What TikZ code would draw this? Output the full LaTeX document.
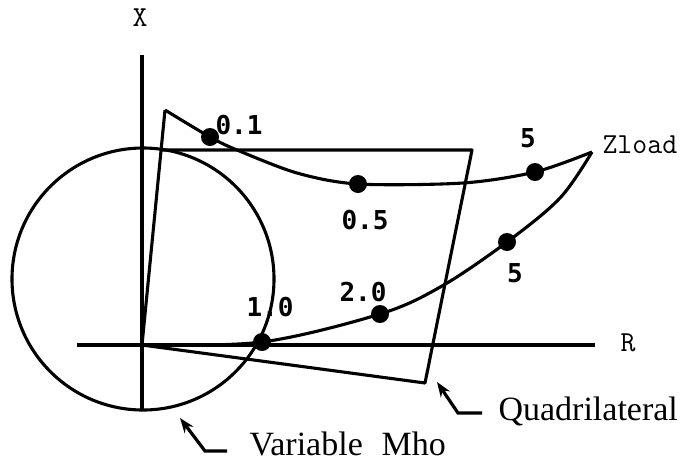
\documentclass[tikz,border=0pt]{standalone}
\usepackage{fontspec}
\setmainfont{Liberation Serif}
\newfontfamily\dvmono{DejaVu Sans Mono}
\usetikzlibrary{arrows.meta}
\begin{document}
\begin{tikzpicture}[x=1pt,y=-1pt,
  line width=3.1pt, line join=round,
  dot/.style={circle,fill=black,inner sep=0pt,minimum size=18pt},
  num/.style={font=\dvmono\bfseries\fontsize{26}{26}\selectfont, inner sep=0pt},
  axlab/.style={font=\ttfamily\fontsize{29}{29}\selectfont, inner sep=0pt},
  caption/.style={font=\fontsize{34}{34}\selectfont, inner sep=0pt, anchor=base west},
  pointer/.style={line width=3.2pt, line join=miter, -{Stealth[length=15pt,width=11pt]}}
]
\useasboundingbox (0,0) rectangle (682,464);

% key points
\coordinate (O) at (142,345);
\coordinate (A) at (165,110);
\coordinate (T) at (161,150);
\coordinate (C) at (472,150);
\coordinate (D) at (425,383);
\coordinate (Z) at (592,152);
\coordinate (xtop) at (142,55);
\coordinate (xbot) at (142,410);
\coordinate (rleft) at (77,345);
\coordinate (rright) at (595,345);

% axes
\draw[line width=3.6pt] (xtop) -- (xbot);
\draw[line width=3.6pt] (rleft) -- (rright);
\node[axlab] (xl) at (140,18) {X};
\node[axlab] (rl) at (628,343) {R};

% mho circle
\draw (143,279) circle[radius=131pt];

% quadrilateral
\draw (O) -- (A);
\draw (T) -- (C) -- (D) -- (O);

% load curves
\node[dot] (d01) at (210,137) {};
\node[dot] (d05) at (358,184) {};
\node[dot] (d5a) at (535,172) {};
\node[dot] (d5b) at (507,242) {};
\node[dot] (d20) at (380,314) {};
\node[dot] (d10) at (262,342) {};

\draw plot[smooth, tension=0.5] coordinates {(A) (d01.center) (237,150) (297,173) (d05.center) (463,183) (d5a.center) (Z)};
\draw plot[smooth, tension=0.55] coordinates {(Z) (560,198) (d5b.center) (442,286) (d20.center) (d10.center) (O)};

% numbers
\node[num] (l01) at (239,125) {0.1};
\node[num] (l05) at (365,220) {0.5};
\node[num] (l5a) at (528,138) {5};
\node[num] (l5b) at (515,273) {5};
\node[num] (l20) at (363,292) {2.0};
\node[num] (l10) at (270,307) {1.0};
\node[axlab, anchor=west] (zl) at (601,145) {Zload};

% captions with pointers
\node[caption] (quad) at (497,420) {Quadrilateral};
\node[caption] (mho) at (248,455) {Variable\hspace{0.3em} Mho};
\coordinate (q1) at (482,413);
\coordinate (q2) at (458,413);
\coordinate (q3) at (437,382);
\coordinate (m1) at (227,451);
\coordinate (m2) at (205,451);
\coordinate (m3) at (180,418);
\draw[pointer] (q1) -- (q2) -- (q3);
\draw[pointer] (m1) -- (m2) -- (m3);
\end{tikzpicture}
\end{document}
